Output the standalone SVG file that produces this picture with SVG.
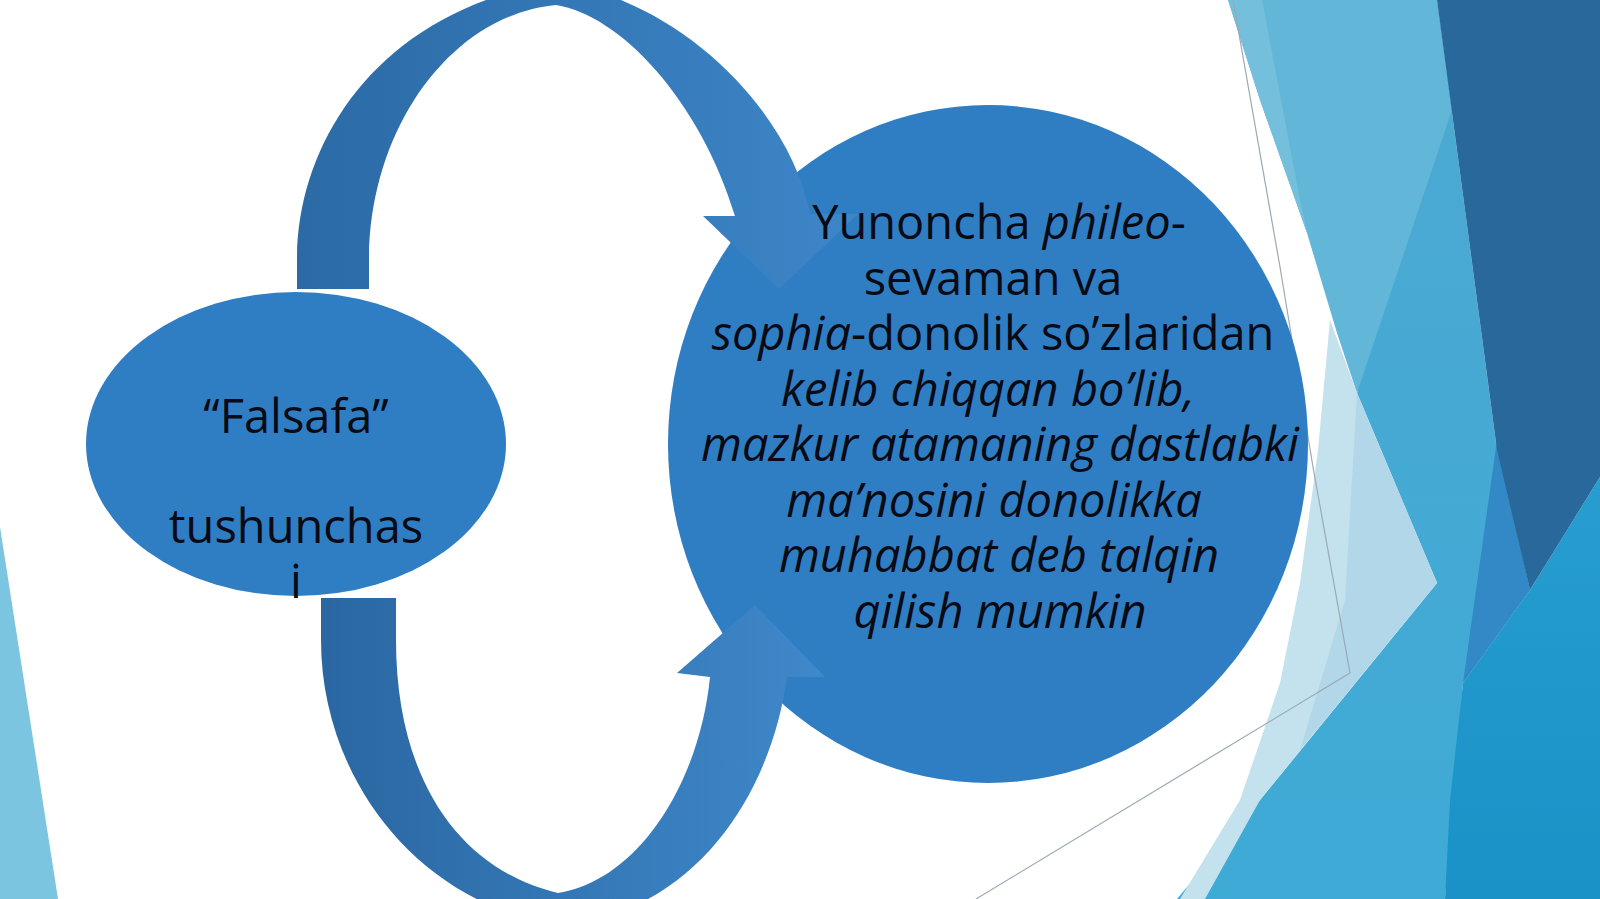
<svg xmlns="http://www.w3.org/2000/svg" width="1600" height="899" viewBox="0 0 1600 899">
<defs>
<style>
.t{font-family:"Open Sans","Noto Sans","DejaVu Sans",sans-serif;font-size:47px;fill:#0a0a14;text-anchor:middle}
.i{font-style:italic}
.node{fill:#2f7ec3}
.thin{fill:none;stroke:#9aa9b4;stroke-width:1.2}
</style>
<linearGradient id="gTop" x1="0" y1="0" x2="1" y2="0">
<stop offset="0" stop-color="#2b6aa5"/>
<stop offset="1" stop-color="#3d86c8"/>
</linearGradient>
<linearGradient id="gBot" x1="0" y1="0" x2="1" y2="0">
<stop offset="0" stop-color="#2a67a2"/>
<stop offset="1" stop-color="#3f88ca"/>
</linearGradient>
<linearGradient id="gMid" x1="0" y1="0" x2="0" y2="1">
<stop offset="0" stop-color="#4da9d1"/>
<stop offset="1" stop-color="#3eaad6"/>
</linearGradient>
<linearGradient id="gBright" x1="0" y1="0" x2="0" y2="1">
<stop offset="0" stop-color="#279dd0"/>
<stop offset="1" stop-color="#1a92c7"/>
</linearGradient>
</defs>
<rect width="1600" height="899" fill="#ffffff"/>
<g id="background">
<polygon points="0,527 58,899 0,899" fill="#7cc5e0"/>
<polygon points="1437,0 1497,450 1530,590 1463,683 1445,899 1177,899 1260,800 1437,583 1357,393" fill="url(#gMid)"/>
<polygon points="1228,0 1437,0 1452,110 1357,393 1337,333 1307,233 1260,100" fill="#62b6d8"/>
<polygon points="1228,0 1262,0 1300,200 1307,233 1260,100" fill="#74bfdc"/>
<polygon points="1330,320 1357,393 1437,583 1260,800 1205,899 1180,899 1240,800 1280,683 1300,583 1318,450" fill="#c4e2ee"/>
<polygon points="1357,393 1437,583 1300,750 1345,600" fill="#a9d3e6" opacity="0.7"/>
<polygon points="1600,477 1530,590 1463,683 1450,800 1445,899 1600,899" fill="url(#gBright)"/>
<polygon points="1497,440 1530,590 1463,683" fill="#3389c5"/>
<polygon points="1437,0 1600,0 1600,477 1530,590 1497,450" fill="#28689a"/>
<polyline class="thin" points="1233,0 1280,267 1313,467 1350,673"/>
<line class="thin" x1="1350" y1="673" x2="976" y2="899"/>
</g>
<g id="node-big">
<ellipse class="node" cx="988" cy="444" rx="320" ry="339"/>
</g>
<g id="node-small">
<ellipse class="node" cx="296" cy="444" rx="210" ry="152"/>
</g>
<g id="connectors">
<path id="arrow-top" fill="url(#gTop)" d="M 297,289 L 297,260 C 297,140 380,10 556,-18 C 680,0 790,110 810,214 L 858,214 L 779,289 L 703,216 L 735,216 C 700,100 620,15 556,5 C 450,15 369,130 369,260 L 369,289 Z"/>
<path id="arrow-bottom" fill="url(#gBot)" d="M 321,598 L 396,598 L 396,640 C 396,780 460,870 558,893 C 640,880 700,780 710,677 L 677,673 L 755,605 L 825,677 L 787,677 C 770,800 690,915 559,925 C 420,905 321,780 321,640 Z"/>
</g>
<g id="label-small">
<text class="t" x="296" y="433">“Falsafa”</text>
<text class="t" x="296" y="543">tushunchas</text>
<text class="t" x="296" y="598">i</text>
</g>
<g id="label-big">
<text class="t" x="999" y="239">Yunoncha <tspan class="i">phileo</tspan>-</text>
<text class="t" x="993" y="294.5">sevaman va</text>
<text class="t" x="993" y="350"><tspan class="i">sophia</tspan>-donolik so’zlaridan</text>
<text class="t i" x="988" y="405.5">kelib chiqqan bo’lib,</text>
<text class="t i" x="1000" y="461">mazkur atamaning dastlabki</text>
<text class="t i" x="994" y="516.5">ma’nosini donolikka</text>
<text class="t i" x="999" y="572">muhabbat deb talqin</text>
<text class="t i" x="1000" y="628">qilish mumkin</text>
</g>
</svg>
